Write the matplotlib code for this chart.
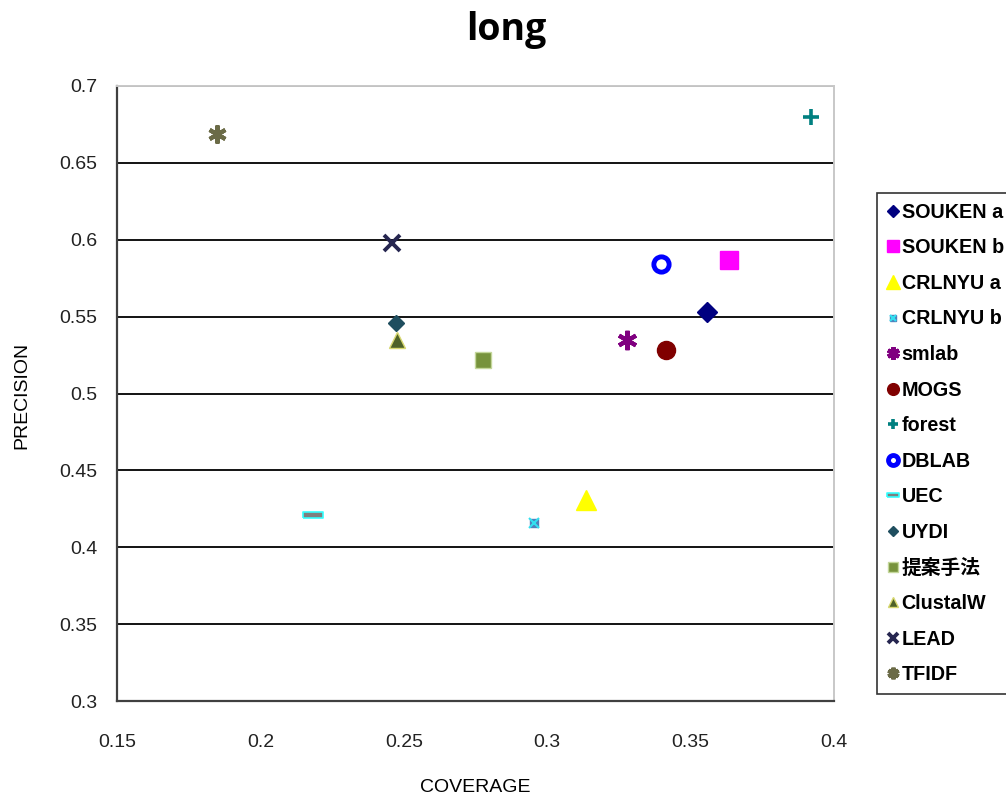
import matplotlib
matplotlib.use("Agg")
import matplotlib.pyplot as plt
from matplotlib.legend_handler import HandlerTuple

plt.rcParams["font.family"] = ["Liberation Sans", "Noto Sans CJK JP"]

# coverage / precision per method
methods = ["SOUKEN a", "SOUKEN b", "CRLNYU a", "CRLNYU b", "smlab", "MOGS", "forest",
           "DBLAB", "UEC", "UYDI", "提案手法", "ClustalW", "LEAD", "TFIDF"]
coverage = [0.3557, 0.3634, 0.3135, 0.2954, 0.3278, 0.3414, 0.3920,
            0.3397, 0.2183, 0.2473, 0.2776, 0.2476, 0.2460, 0.1850]
precision = [0.553, 0.587, 0.431, 0.416, 0.535, 0.528, 0.680,
             0.584, 0.421, 0.546, 0.522, 0.535, 0.598, 0.669]

x_ticks = [0.15, 0.2, 0.25, 0.3, 0.35, 0.4]
y_ticks = [0.3, 0.35, 0.4, 0.45, 0.5, 0.55, 0.6, 0.65, 0.7]

bar_marker = [(-1, -0.28), (1, -0.28), (1, 0.28), (-1, 0.28), (-1, -0.28)]

# marker style for each method (layers drawn at the same point)
styles = {
    "SOUKEN a": [dict(marker="D", ms=10, mfc="#000080", mec="#000080")],
    "SOUKEN b": [dict(marker="s", ms=13, mfc="#FF00FF", mec="#FF00FF")],
    "CRLNYU a": [dict(marker="^", ms=15, mfc="#FFFF00", mec="#FFFF00")],
    "CRLNYU b": [dict(marker="s", ms=6, mfc="#4F81BD", mec="#4F81BD"),
                 dict(marker="x", ms=7, mfc="none", mec="#33E0F0", mew=1.5)],
    "smlab": [dict(marker=(6, 2, 0), ms=14, mec="#800080", mew=3)],
    "MOGS": [dict(marker="o", ms=13, mfc="#800000", mec="#800000")],
    "forest": [dict(marker="+", ms=11, mec="#008080", mew=2.6)],
    "DBLAB": [dict(marker="o", ms=11, mfc="none", mec="#0000FF", mew=3.5)],
    "UEC": [dict(marker=bar_marker, ms=14, mfc="#7F7F7F", mec="#33FFFF", mew=1.2)],
    "UYDI": [dict(marker="D", ms=8, mfc="#1F4E5F", mec="#1F4E5F")],
    "提案手法": [dict(marker="s", ms=11, mfc="#77933C", mec="#C4D79B", mew=1)],
    "ClustalW": [dict(marker="^", ms=11, mfc="#4F6228", mec="#D8D870", mew=1)],
    "LEAD": [dict(marker="x", ms=12, mec="#262650", mew=2.8)],
    "TFIDF": [dict(marker=(6, 2, 0), ms=13, mec="#6B6B47", mew=3)],
}

fig = plt.figure(figsize=(10.06, 7.96), dpi=100)
ax = fig.add_axes([0.1163, 0.1193, 0.7127, 0.7727])

handles = []
for name, cx, cy in zip(methods, coverage, precision):
    layers = []
    for st in styles[name]:
        line, = ax.plot([cx], [cy], linestyle="none", zorder=3, **st)
        layers.append(line)
    handles.append(tuple(layers))

ax.set_xlim(0.15, 0.4)
ax.set_ylim(0.3, 0.7)
ax.set_xticks(x_ticks)
ax.set_xticklabels([f"{v:g}" for v in x_ticks])
ax.set_yticks(y_ticks)
ax.set_yticklabels([f"{v:g}" for v in y_ticks])
ax.tick_params(length=0, labelsize=14, colors="#222222")
ax.tick_params(axis="x", pad=24)
ax.tick_params(axis="y", pad=14)

ax.grid(axis="y", color="black", linewidth=1.3)
ax.set_axisbelow(True)
for side in ("left", "bottom"):
    ax.spines[side].set_color("#404040")
    ax.spines[side].set_linewidth(1.6)
for side in ("top", "right"):
    ax.spines[side].set_color("#C8C8C8")
    ax.spines[side].set_linewidth(1.4)

# axis titles placed in figure coordinates
fig.text(475 / 1006, 1 - 787 / 796, "COVERAGE", ha="center", va="center", fontsize=14)
fig.text(22 / 1006, 1 - 395 / 796, "PRECISION", ha="center", va="center",
         fontsize=14, rotation=90)

fig.text(0.503, 0.962, "long", ha="center", va="center", fontsize=27,
         fontweight="bold", family=["Open Sans", "DejaVu Sans"])

leg = fig.legend(handles, methods, loc="upper left",
                 bbox_to_anchor=(867 / 1006, 1 - 183 / 796),
                 handler_map={tuple: HandlerTuple(ndivide=1, pad=0)},
                 markerscale=0.65, handlelength=0.6, handletextpad=0.15,
                 labelspacing=0.84, borderpad=0.5, fancybox=False,
                 frameon=True, edgecolor="black",
                 prop={"size": 14.2, "weight": "bold",
                       "family": ["Liberation Sans", "Noto Sans CJK JP"]})
leg.get_frame().set_linewidth(1.2)

fig.savefig("out.png", dpi=100)
